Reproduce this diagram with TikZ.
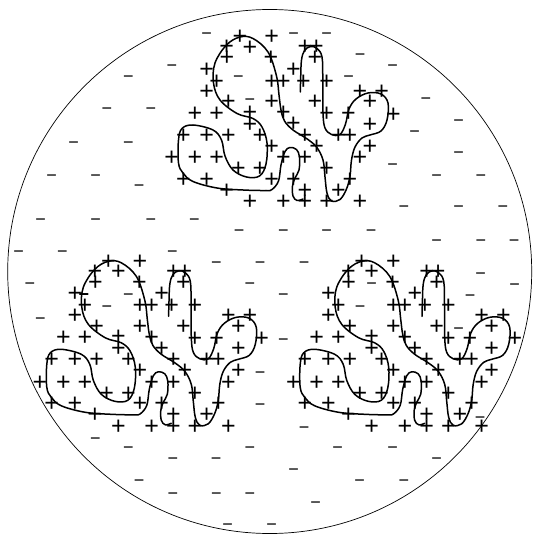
\documentclass[tikz,border=0pt]{standalone}
\usepackage{fontspec}
\setmainfont{Liberation Sans}
\tikzset{
  pl/.style={font=\fontsize{25}{25}\selectfont, inner sep=0pt, anchor=base, yshift=-8.8pt},
  mi/.style={font=\fontsize{18}{18}\selectfont, inner sep=0pt, anchor=base, yshift=-6.0pt},
  outline/.style={line width=1.5pt, line join=round, line cap=round},
  rim/.style={line width=0.7pt},
}
\newcommand\cactusdraw{%
  \draw[outline] plot[smooth, tension=0.6] coordinates {
    (303,199) (297,200.5) (293,196) (292.5,186) (295,178) (299,170) (299.5,157)
    (296.5,149.5) (290,147.5) (285,151.5) (281,165) (278.5,181) (272,189.5)
    (266,190.5) (243,190) (217,188) (193,181.5) (183,173) (178.5,163) (178.5,140)
    (182,128.5) (193,125) (213,130) (221.5,140) (225,156) (233,170) (246.5,177)
    (259.5,176) (266,164) (267,143) (262,127) (253,118.5) (237,113.5) (220,100)
    (213.5,83) (215,63) (226.5,45) (240,37) (253,38.5) (268,52) (276.5,76)
    (279,95) (281,110) (284.5,121) (293,130) (306.5,138.5) (316.5,147) (323,160)
    (325,177) (327,193) (331.5,201) (340,199.5) (346.5,189) (350,176) (351.5,160)
    (355,147) (362,138) (370,135) (381,131) (387,120) (388,103) (381,94) (368,93)
    (356,99) (349,109) (345.5,124) (340,134.5) (331.5,134.5) (325,128) (323,113)
    (322.8,80) (322,57) (317,48.5) (310.5,46.5) (304.5,50.5) (301.5,60) (300.7,77)
    (300.3,92)};
  \foreach \px/\py [count=\i] in {
    240/36, 271.7/36,
    226.7/46, 250/46.5, 305/46, 316.5/46,
    227/57, 271/57, 315/57,
    206.7/68.5, 293.3/68.5,
    216.7/80.5, 271.7/80.5, 283.3/80.5, 303.3/80.5, 326.7/80.5,
    206.7/90.5, 360/90.5, 381.7/90.5,
    228.3/101, 271.7/101, 315/101, 370/101,
    195/112.5, 216.7/112.5, 250/111.5, 283.3/112, 326.7/113, 348.3/113, 393.3/113.5,
    250/123.5, 293.3/123, 370/123.5,
    183.3/134.5, 206.7/134.5, 228.3/134.5, 260/134.5, 305/134.5, 338.3/134.5, 350/134.5,
    271.7/145.5, 316.7/145.5, 370/145.5,
    171.7/157, 195/157, 216.7/157, 283.3/157, 305/157, 360/157,
    238.3/168, 260/168, 326.7/168,
    183.3/178.7, 206.7/178.7, 271.7/178.7, 293.3/178.7, 350/178.7,
    226.7/189.5, 305/189.5, 338.3/189.5,
    250/201, 283.3/201, 305/201, 326.7/201, 360/201}
    \node[pl] (p\i) at (\px,\py) {+};
}
\begin{document}
\begin{tikzpicture}[x=1pt,y=-1pt]
\useasboundingbox (0,0) rectangle (532,534);
\draw[rim] (269.7,271.5) circle[radius=262pt];
\begin{scope}[name prefix=t-]
  \cactusdraw
\end{scope}
\begin{scope}[shift={(-131.7,224.3)}, name prefix=l-]
  \cactusdraw
\end{scope}
\begin{scope}[shift={(121.7,224.3)}, name prefix=r-]
  \cactusdraw
\end{scope}
\foreach \mx/\my [count=\j] in {
  206.7/33.3, 293.5/33.3, 326.7/33.3, 360/55, 172/65.5, 392.6/65.5,
  128.3/76.3, 238.3/76.7, 348.5/76.5, 250/99.5, 425.8/98.4, 107/108.6,
  151/108.6, 458.7/120.4, 414.6/131.3, 73.6/142.5, 128.3/142.5, 458.7/152.7,
  392.6/164.6, 51.6/175.4, 95.7/175.4, 436.7/175.4, 480.8/175.4, 139.1/185.9,
  403.8/207, 458.7/207, 502.8/207, 40.7/219.5, 95.7/219.5, 151/219.5,
  194.4/219.5, 239.2/230.5, 283.3/230.5, 326.7/230.5, 371/230.5, 436.7/240.2,
  480.8/240.2, 514/240.2, 18.7/251.3, 62.3/251.3, 172.3/251.3, 216.4/262.5,
  260.1/262.5, 304/262.5, 480.5/273.2, 30/283.3, 250/283.3, 514.5/284.2,
  371.7/283.3, 128.3/294.7, 283.3/294.7, 470/295, 106.8/306, 360/306,
  40.4/318, 458.5/328, 283.3/339.3, 260.1/372.4, 260.1/404.7, 480/417,
  304/427, 95.4/438, 128.3/447.9, 250/447.9, 337.6/447.9, 392.6/447.9,
  173/458.7, 216.1/458.7, 436.7/458.7, 293.5/469.9, 139.1/480.8, 359.7/480.8,
  403.8/480.8, 173/493, 216.4/493.5, 250/493.5, 315.5/502.8, 227.7/524,
  271.7/524}
  \node[mi] (m\j) at (\mx,\my) {−};
\node[mi, font=\fontsize{18}{18}\selectfont\bfseries] (mthick) at (84,294) {−};
\end{tikzpicture}
\end{document}
